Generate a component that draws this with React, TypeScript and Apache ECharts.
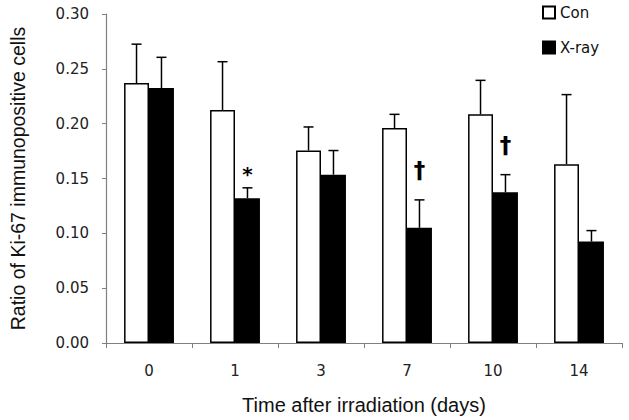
import React, { useEffect, useRef } from "react";
import * as echarts from "echarts";

const categories = ["0", "1", "3", "7", "10", "14"];
const conMeans = [0.237, 0.2125, 0.1755, 0.196, 0.2085, 0.163];
const conTops = [0.2725, 0.2565, 0.197, 0.2085, 0.2395, 0.2265];
const xrayMeans = [0.2325, 0.132, 0.1535, 0.105, 0.1375, 0.0925];
const xrayTops = [0.2605, 0.1415, 0.1755, 0.1305, 0.1535, 0.1025];
const xrayMarks = ["", "*", "", "†", "†", ""];
const conMarks = ["", "", "", "", "", ""];
const yTicks = { min: 0, max: 0.3, interval: 0.05 };

const BAR_FRAC = 0.29;

function errorSeries(name: string, means: number[], tops: number[], marks: string[], sign: number) {
  return {
    type: "custom",
    name: name + "-err",
    z: 5,
    silent: true,
    data: means.map((m, i) => [i, m, tops[i]]),
    encode: { x: 0, y: [1, 2] },
    renderItem: (params: any, api: any) => {
      const idx = api.value(0);
      const mean = api.value(1);
      const top = api.value(2);
      const catW = api.size([1, 0])[0];
      const off = (catW * BAR_FRAC) / 2 * sign;
      const p0 = api.coord([idx, mean]);
      const p1 = api.coord([idx, top]);
      const x = p0[0] + off;
      const style = { stroke: "#000", lineWidth: 1.5 };
      const children: any[] = [
        { type: "line", shape: { x1: x, y1: p0[1], x2: x, y2: p1[1] }, style },
        { type: "line", shape: { x1: x - 5, y1: p1[1], x2: x + 5, y2: p1[1] }, style },
      ];
      const mark = marks[params.dataIndex];
      if (mark) {
        children.push({
          type: "text",
          x: x,
          y: p1[1] - (mark === "*" ? 4 : 18),
          style: {
            text: mark,
            fill: "#000",
            font: mark === "*" ? "bold 20px 'DejaVu Sans'" : "bold 23px 'DejaVu Sans'",
            align: "center",
            verticalAlign: "bottom",
          },
        });
      }
      return { type: "group", children };
    },
  };
}

export default function App() {
  const ref = useRef<HTMLDivElement>(null);
  useEffect(() => {
    document.body.style.margin = "0";
    const chart = echarts.init(ref.current!, null, { renderer: "svg" });
    const tickFont = { fontFamily: "DejaVu Sans", fontSize: 15, color: "#222" };
    chart.setOption({
      animation: false,
      backgroundColor: "#fff",
      grid: { left: 100, right: 7, top: 14, bottom: 76, containLabel: false },
      legend: {
        data: ["Con", "X-ray"],
        orient: "vertical",
        left: 537,
        top: 0,
        itemWidth: 12,
        itemHeight: 12,
        itemGap: 20,
        icon: "rect",
        textStyle: { fontFamily: "DejaVu Sans", fontSize: 15, color: "#111" },
      },
      xAxis: {
        type: "category",
        data: categories,
        boundaryGap: true,
        name: "Time after irradiation (days)",
        nameLocation: "middle",
        nameGap: 52,
        nameTextStyle: { fontFamily: "Liberation Sans", fontSize: 20, color: "#111" },
        axisLine: { lineStyle: { color: "#808080", width: 1.2 } },
        axisTick: { show: true, length: 5, lineStyle: { color: "#808080" } },
        axisLabel: { ...tickFont, margin: 20 },
      },
      yAxis: {
        type: "value",
        min: yTicks.min,
        max: yTicks.max,
        interval: yTicks.interval,
        name: "Ratio of Ki-67 immunopositive cells",
        nameLocation: "middle",
        nameGap: 78,
        nameTextStyle: { fontFamily: "Liberation Sans", fontSize: 19.5, color: "#111" },
        splitLine: { show: false },
        axisLine: { show: true, lineStyle: { color: "#808080", width: 1.2 } },
        axisTick: { show: true, length: 4, lineStyle: { color: "#808080" } },
        axisLabel: { ...tickFont, margin: 17, formatter: (v: number) => v.toFixed(2) },
      },
      series: [
        {
          type: "bar",
          name: "Con",
          data: conMeans,
          barWidth: BAR_FRAC * 100 + "%",
          barGap: "0%",
          itemStyle: { color: "#fff", borderColor: "#000", borderWidth: 1.5 },
        },
        {
          type: "bar",
          name: "X-ray",
          data: xrayMeans,
          barWidth: BAR_FRAC * 100 + "%",
          barGap: "0%",
          itemStyle: { color: "#000", borderColor: "#000", borderWidth: 1.5 },
        },
        errorSeries("Con", conMeans, conTops, conMarks, -1),
        errorSeries("X-ray", xrayMeans, xrayTops, xrayMarks, 1),
      ],
    });
    return () => chart.dispose();
  }, []);
  return <div ref={ref} style={{ width: 629, height: 420 }} />;
}
